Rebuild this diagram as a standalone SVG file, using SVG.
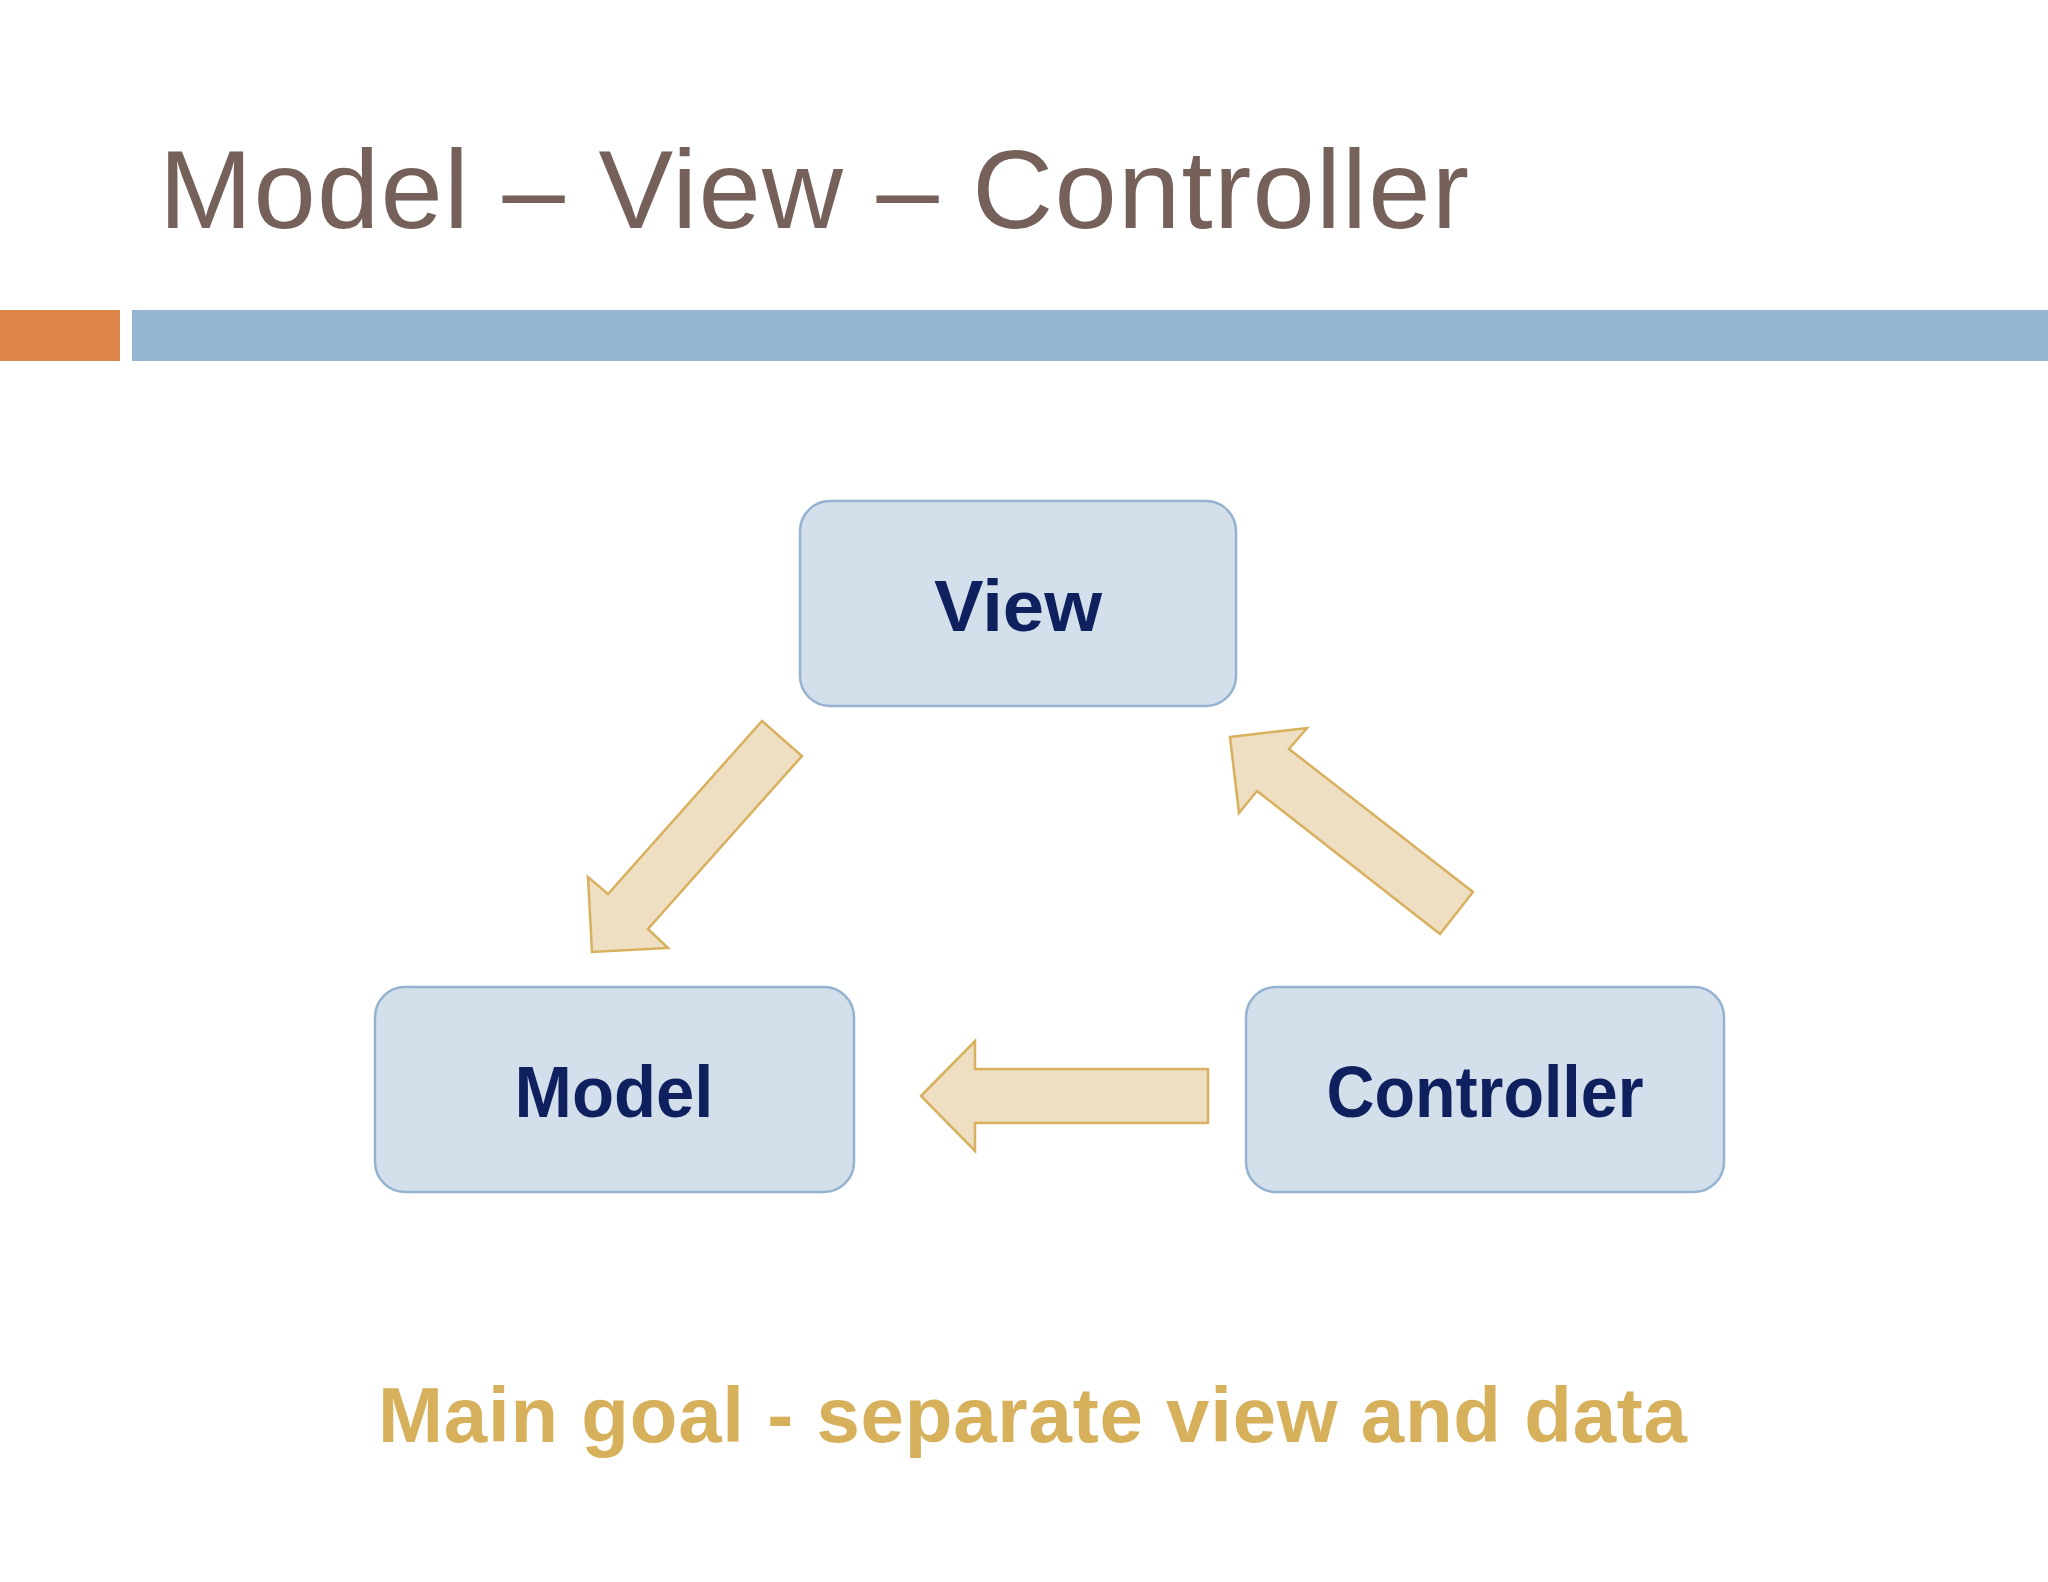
<svg xmlns="http://www.w3.org/2000/svg" width="2048" height="1582" viewBox="0 0 2048 1582">
<style>
.node rect{fill:#D3DFEB;stroke:#95B3D0;stroke-width:2.5}
.node text{font-family:"Liberation Sans",Arial,sans-serif;font-weight:bold;font-size:72px;fill:#0E215E;text-anchor:middle}
.arrow{fill:#EEDEC2;stroke:#D8B05E;stroke-width:2.5;stroke-linejoin:miter}
.title{font-family:"Liberation Sans",Arial,sans-serif;font-size:112px;fill:#76605A}
.goal{font-family:"Liberation Sans",Arial,sans-serif;font-weight:bold;font-size:78px;fill:#D6B05B}
</style>
<rect x="0" y="0" width="2048" height="1582" fill="#FFFFFF"/>
<text class="title" x="159" y="228" textLength="1310" lengthAdjust="spacing">Model – View – Controller</text>
<rect x="0" y="310" width="120" height="51" fill="#DE8449"/>
<rect x="132" y="310" width="1916" height="51" fill="#94B6D2"/>
<g id="connectors">
<polygon class="arrow" points="762,721 802,756 648,929 668,948 592,952 588,877 608,894"/>
<polygon class="arrow" points="1230,737 1307,728 1289,749 1473,892 1440,934 1257,791 1239,813"/>
<polygon class="arrow" points="921,1096 975,1041 975,1069 1208,1069 1208,1123 975,1123 975,1151"/>
</g>
<g id="node-view" class="node">
<rect x="800" y="501" width="436" height="205" rx="30" ry="30"/>
<text x="1018" y="631" textLength="168" lengthAdjust="spacingAndGlyphs">View</text>
</g>
<g id="node-model" class="node">
<rect x="375" y="987" width="479" height="205" rx="30" ry="30"/>
<text x="614" y="1117" textLength="199" lengthAdjust="spacingAndGlyphs">Model</text>
</g>
<g id="node-controller" class="node">
<rect x="1246" y="987" width="478" height="205" rx="30" ry="30"/>
<text x="1485" y="1117" textLength="317" lengthAdjust="spacingAndGlyphs">Controller</text>
</g>
<text class="goal" x="378" y="1442" textLength="1309" lengthAdjust="spacing">Main goal - separate view and data</text>
</svg>
